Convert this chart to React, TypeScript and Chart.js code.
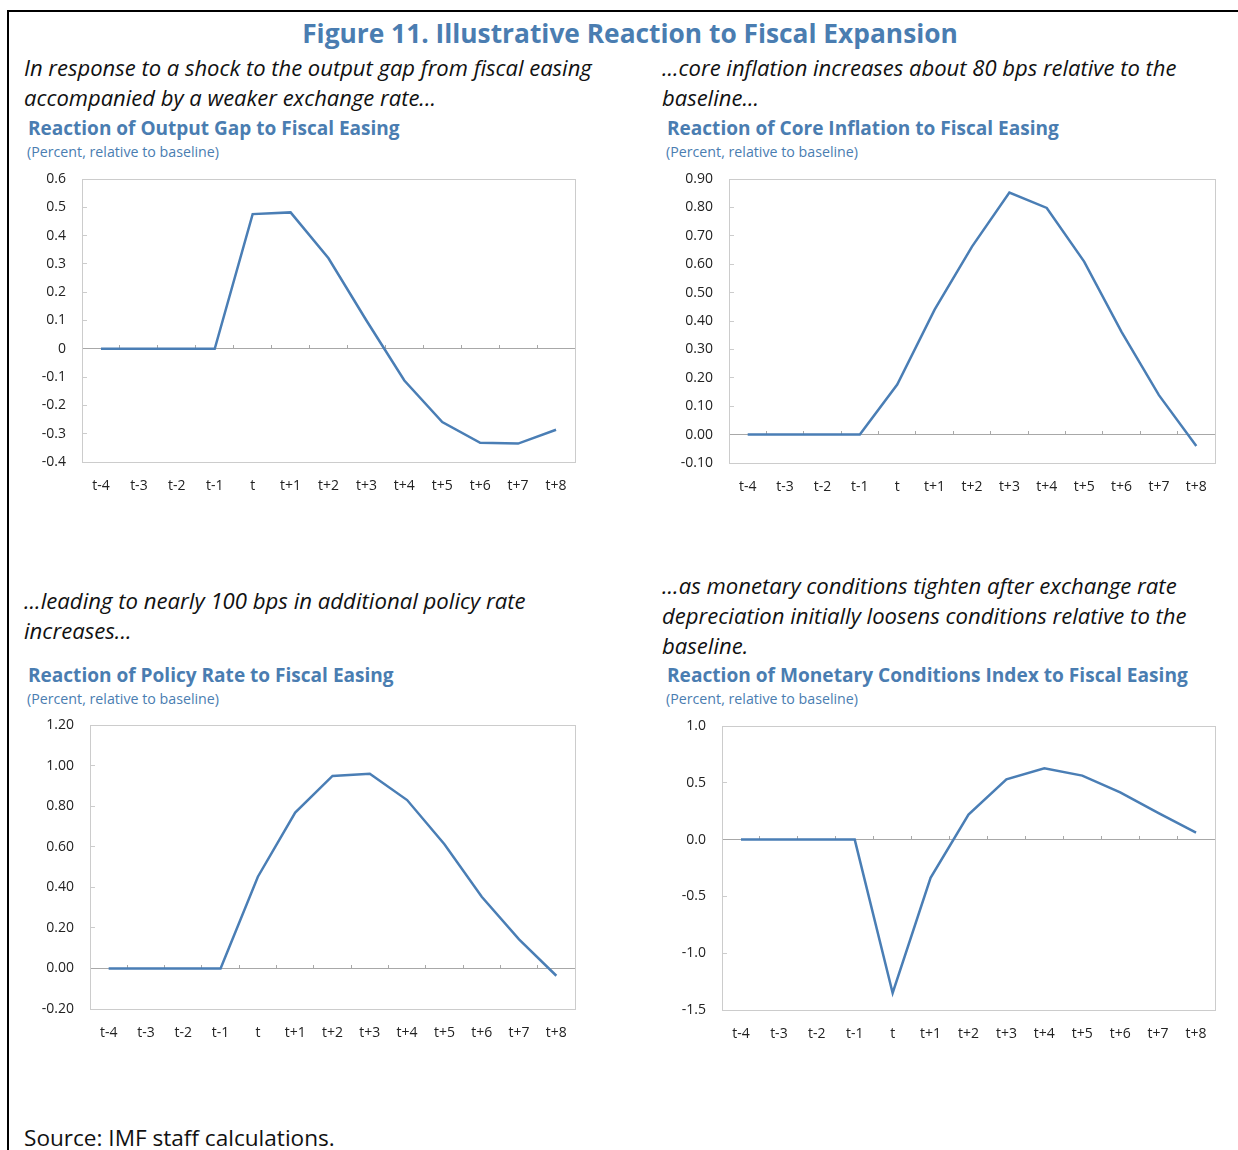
import React, { useEffect, useRef } from "react";
import { Chart, registerables } from "chart.js";

Chart.register(...registerables);

// ---------------- DATA ----------------
const periods = ["t-4", "t-3", "t-2", "t-1", "t", "t+1", "t+2", "t+3", "t+4", "t+5", "t+6", "t+7", "t+8"];

const outputGap = [0, 0, 0, 0, 0.476, 0.482, 0.32, 0.1, -0.112, -0.259, -0.332, -0.335, -0.286];
const coreInflation = [0, 0, 0, 0, 0.176, 0.44, 0.662, 0.852, 0.798, 0.609, 0.362, 0.139, -0.04];
const policyRate = [0, 0, 0, 0, 0.452, 0.768, 0.949, 0.96, 0.83, 0.612, 0.353, 0.143, -0.036];
const monetaryConditions = [0, 0, 0, 0, -1.35, -0.337, 0.22, 0.531, 0.628, 0.563, 0.416, 0.235, 0.062];

const outputGapAxis = { min: -0.4, max: 0.6, step: 0.1, digits: 1, plainZero: true };
const coreInflationAxis = { min: -0.1, max: 0.9, step: 0.1, digits: 2, plainZero: false };
const policyRateAxis = { min: -0.2, max: 1.2, step: 0.2, digits: 2, plainZero: false };
const monetaryAxis = { min: -1.5, max: 1.0, step: 0.5, digits: 1, plainZero: false };

const figureTitle = "Figure 11. Illustrative Reaction to Fiscal Expansion";
const unitsNote = "(Percent, relative to baseline)";
const sourceNote = "Source: IMF staff calculations.";

// ---------------- STYLE ----------------
const FONT = "'Open Sans', 'Noto Sans', sans-serif";
const BLUE = "#4a7db1";
const LINE = "#4a7eb5";
const BOX = "#cccccc";
const ZERO = "#a8a8a8";
const TICK = "#222222";

Chart.defaults.font.family = FONT;
Chart.defaults.font.size = 14;
Chart.defaults.color = TICK;

const plotBox = {
  id: "plotBox",
  beforeDatasetsDraw(chart: any) {
    const { ctx, chartArea: a } = chart;
    ctx.save();
    ctx.strokeStyle = BOX;
    ctx.lineWidth = 1;
    const l = Math.round(a.left) + 0.5;
    const t = Math.round(a.top) + 0.5;
    ctx.strokeRect(l, t, Math.round(a.right) - Math.round(a.left), Math.round(a.bottom) - Math.round(a.top));
    ctx.restore();
  },
};

const Y_W = 60;
const PAD_T = 12;
const PAD_R = 14;
const X_H = 40;

type Rect = { l: number; r: number; t: number; b: number };
type AxisSpec = { min: number; max: number; step: number; digits: number; plainZero: boolean };

function ChartPanel({ values, axis, rect }: { values: number[]; axis: AxisSpec; rect: Rect }) {
  const ref = useRef<HTMLCanvasElement>(null);
  const w = rect.r - rect.l + Y_W + PAD_R;
  const h = rect.b - rect.t + PAD_T + X_H;
  useEffect(() => {
    const chart = new Chart(ref.current as HTMLCanvasElement, {
      type: "line",
      data: {
        labels: periods,
        datasets: [
          {
            data: values,
            borderColor: LINE,
            borderWidth: 2.5,
            pointRadius: 0,
            pointHoverRadius: 0,
            fill: false,
            tension: 0,
            borderJoinStyle: "miter",
          },
        ],
      },
      options: {
        responsive: false,
        animation: false,
        maintainAspectRatio: false,
        events: [],
        layout: { padding: { top: PAD_T, right: PAD_R, left: 0, bottom: 0 } },
        plugins: { legend: { display: false }, tooltip: { enabled: false }, title: { display: false } },
        scales: {
          x: {
            type: "category",
            offset: true,
            grid: { display: false, drawTicks: false },
            border: { display: false },
            ticks: { padding: 16, maxRotation: 0, minRotation: 0, autoSkip: false, color: TICK, font: { size: 14 } },
            afterFit: (s: any) => {
              s.height = X_H;
              s.paddingLeft = 0;
              s.paddingRight = 0;
            },
          },
          x0: {
            axis: "x",
            type: "category",
            position: { y: 0 },
            offset: true,
            grid: { offset: true, drawOnChartArea: false, drawTicks: true, tickLength: -4, color: ZERO, lineWidth: 1 },
            border: { display: true, color: ZERO, width: 1 },
            ticks: { display: false },
            afterFit: (s: any) => {
              s.paddingLeft = 0;
              s.paddingRight = 0;
              s.paddingTop = 0;
              s.paddingBottom = 0;
            },
          },
          y: {
            type: "linear",
            position: "left",
            min: axis.min,
            max: axis.max,
            grid: { drawOnChartArea: false, drawTicks: true, tickLength: -5, color: BOX, lineWidth: 1 },
            border: { display: false },
            ticks: {
              stepSize: axis.step,
              padding: 21,
              color: TICK,
              font: { size: 14 },
              callback: (v: any) => {
                const n = Number(v);
                if (Math.abs(n) < 1e-9) return axis.plainZero ? "0" : (0).toFixed(axis.digits);
                return n.toFixed(axis.digits);
              },
            },
            afterFit: (s: any) => {
              s.width = Y_W;
              s.paddingTop = 0;
              s.paddingBottom = 0;
            },
          },
        },
      } as any,
      plugins: [plotBox],
    });
    return () => chart.destroy();
  }, []);
  return (
    <canvas
      ref={ref}
      width={w}
      height={h}
      style={{ position: "absolute", left: rect.l - Y_W, top: rect.t - PAD_T, width: w, height: h }}
    />
  );
}

// ---------------- TEXT ----------------
let measureCtx: CanvasRenderingContext2D | null = null;
function measure(font: string, text: string) {
  if (!measureCtx) measureCtx = document.createElement("canvas").getContext("2d");
  measureCtx!.font = font;
  return measureCtx!.measureText(text).width;
}

type Kind = "title" | "italic" | "head" | "sub" | "source";
const kinds: Record<Kind, { style: string; weight: number; color: string }> = {
  title: { style: "normal", weight: 700, color: BLUE },
  head: { style: "normal", weight: 700, color: BLUE },
  sub: { style: "normal", weight: 400, color: BLUE },
  italic: { style: "italic", weight: 400, color: "#111111" },
  source: { style: "normal", weight: 400, color: "#111111" },
};

function TextBlock({
  lines,
  kind,
  x,
  ys,
  fitIndex,
  fitWidth,
  center,
}: {
  lines: string[];
  kind: Kind;
  x: number;
  ys: number[];
  fitIndex: number;
  fitWidth: number;
  center?: boolean;
}) {
  const k = kinds[kind];
  const base = 20;
  const mw = measure(`${k.style} ${k.weight} ${base}px ${FONT}`, lines[fitIndex]);
  const size = (base * fitWidth) / mw;
  return (
    <>
      {lines.map((ln, i) => (
        <div
          key={i}
          style={{
            position: "absolute",
            left: center ? x - 600 : x,
            width: center ? 1200 : undefined,
            textAlign: center ? "center" : "left",
            top: ys[i] - 0.53 * size,
            fontFamily: FONT,
            fontStyle: k.style,
            fontWeight: k.weight,
            fontSize: size,
            lineHeight: 1,
            color: k.color,
            whiteSpace: "nowrap",
          }}
        >
          {ln}
        </div>
      ))}
    </>
  );
}

export default function App() {
  return (
    <div
      style={{
        position: "absolute",
        left: 0,
        top: 0,
        width: 1238,
        height: 1150,
        overflow: "hidden",
        background: "#ffffff",
      }}
    >
      <div
        style={{
          position: "absolute",
          left: 7,
          top: 10,
          width: 1300,
          height: 1300,
          borderLeft: "2px solid #000",
          borderTop: "2px solid #000",
        }}
      />
      <TextBlock lines={[figureTitle]} kind="title" x={630} ys={[34]} fitIndex={0} fitWidth={656} center />

      <TextBlock
        lines={["In response to a shock to the output gap from fiscal easing", "accompanied by a weaker exchange rate..."]}
        kind="italic"
        x={24}
        ys={[68, 98]}
        fitIndex={0}
        fitWidth={568}
      />
      <TextBlock
        lines={["...core inflation increases about 80 bps relative to the", "baseline..."]}
        kind="italic"
        x={662}
        ys={[68, 98]}
        fitIndex={0}
        fitWidth={515}
      />
      <TextBlock lines={["Reaction of Output Gap to Fiscal Easing"]} kind="head" x={28} ys={[129]} fitIndex={0} fitWidth={372} />
      <TextBlock lines={[unitsNote]} kind="sub" x={27} ys={[153]} fitIndex={0} fitWidth={192} />
      <TextBlock lines={["Reaction of Core Inflation to Fiscal Easing"]} kind="head" x={667} ys={[129]} fitIndex={0} fitWidth={392} />
      <TextBlock lines={[unitsNote]} kind="sub" x={666} ys={[153]} fitIndex={0} fitWidth={192} />

      <TextBlock
        lines={["...leading to nearly 100 bps in additional policy rate", "increases..."]}
        kind="italic"
        x={24}
        ys={[601, 631]}
        fitIndex={0}
        fitWidth={502}
      />
      <TextBlock
        lines={[
          "...as monetary conditions tighten after exchange rate",
          "depreciation initially loosens conditions relative to the",
          "baseline.",
        ]}
        kind="italic"
        x={662}
        ys={[586, 616, 646]}
        fitIndex={1}
        fitWidth={525}
      />
      <TextBlock lines={["Reaction of Policy Rate to Fiscal Easing"]} kind="head" x={28} ys={[676]} fitIndex={0} fitWidth={366} />
      <TextBlock lines={[unitsNote]} kind="sub" x={27} ys={[700]} fitIndex={0} fitWidth={192} />
      <TextBlock
        lines={["Reaction of Monetary Conditions Index to Fiscal Easing"]}
        kind="head"
        x={667}
        ys={[676]}
        fitIndex={0}
        fitWidth={521}
      />
      <TextBlock lines={[unitsNote]} kind="sub" x={666} ys={[700]} fitIndex={0} fitWidth={192} />

      <TextBlock lines={[sourceNote]} kind="source" x={24} ys={[1139]} fitIndex={0} fitWidth={311} />

      <ChartPanel values={outputGap} axis={outputGapAxis} rect={{ l: 82, r: 575, t: 179, b: 462 }} />
      <ChartPanel values={coreInflation} axis={coreInflationAxis} rect={{ l: 729, r: 1215, t: 179, b: 463 }} />
      <ChartPanel values={policyRate} axis={policyRateAxis} rect={{ l: 90, r: 575, t: 725, b: 1009 }} />
      <ChartPanel values={monetaryConditions} axis={monetaryAxis} rect={{ l: 722, r: 1215, t: 726, b: 1010 }} />
    </div>
  );
}
